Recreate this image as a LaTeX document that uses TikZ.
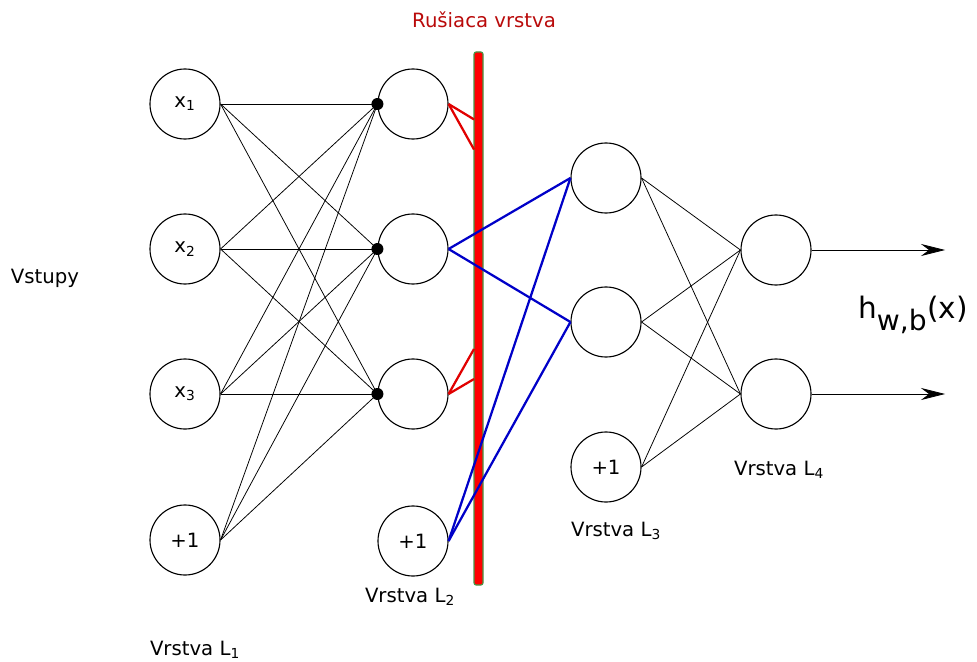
\documentclass[tikz,border=0pt]{standalone}
\usepackage{fontspec}
\setmainfont{DejaVu Sans}
\usepackage{xcolor}
\usepackage{tikz}
\usetikzlibrary{positioning,calc,arrows.meta}

\definecolor{dropred}{RGB}{185,10,10}
\definecolor{barred}{RGB}{255,0,0}
\definecolor{linkred}{RGB}{225,0,0}
\definecolor{bargreen}{RGB}{70,150,70}
\definecolor{linkblue}{RGB}{0,0,200}

\begin{document}
\begin{tikzpicture}[x=0.025cm, y=-0.025cm, font=\fontsize{14}{16}\selectfont,
    neuron/.style={draw, circle, line width=0.8pt, minimum size=1.75cm, inner sep=0pt},
    link/.style={draw, line width=0.55pt},
    droplink/.style={draw=linkred, line width=1.6pt},
    keeplink/.style={draw=linkblue, line width=1.6pt},
    dot/.style={fill, circle, inner sep=0pt, minimum size=0.3cm}]
    \useasboundingbox (0,0) rectangle (977,662);

    % vrstva L1
    \node [neuron] (X1) at (185,104) {x\textsubscript{1}};
    \node [neuron] (X2) at (185,249) {x\textsubscript{2}};
    \node [neuron] (X3) at (185,394) {x\textsubscript{3}};
    \node [neuron] (B1) at (185,540) {+1};

    % vrstva L2
    \node [neuron] (A1) at (413,104) {};
    \node [neuron] (A2) at (413,249) {};
    \node [neuron] (A3) at (413,394) {};
    \node [neuron] (B2) at (413,541) {+1};

    % vrstva L3
    \node [neuron] (C1) at (606,178) {};
    \node [neuron] (C2) at (606,322) {};
    \node [neuron] (B3) at (606,467) {+1};

    % vrstva L4
    \node [neuron] (D1) at (776,250) {};
    \node [neuron] (D2) at (776,394) {};

    % rusiaca vrstva
    \draw [fill=barred, draw=bargreen, line width=0.8pt, rounded corners=1.5pt] (474,52) rectangle (483,585);
    \coordinate (BarTop) at (474,52);
    \coordinate (BarBot) at (474,585);
    \node [text=dropred] (Drop) at (484,20) {Rušiaca vrstva};

    % L1 -> L2
    \foreach \s in {X1,X2,X3,B1}
        \foreach \t in {A1,A2,A3}
            \draw [link] (\s.east) -- (\t.west);
    \foreach \t in {A1,A2,A3}
        \node [dot] at (\t.west) {};

    % L2 -> L3 (odpojene)
    \foreach \s in {A1,A3}
        \foreach \t in {C1,C2}
            \draw [droplink] (\s.east) -- (intersection of \s.east--\t.west and BarTop--BarBot);

    % L2 -> L3 (ponechane)
    \foreach \s in {A2,B2}
        \foreach \t in {C1,C2}
            \draw [keeplink] (\s.east) -- (\t.west);

    % L3 -> L4
    \foreach \s in {C1,C2,B3}
        \foreach \t in {D1,D2}
            \draw [link] (\s.east) -- (\t.west);

    % vystupy
    \coordinate (Out1) at (945,250);
    \coordinate (Out2) at (945,394);
    \draw [link, -{Stealth[length=6mm, width=3mm, inset=2mm]}] (D1.east) -- (Out1);
    \draw [link, -{Stealth[length=6mm, width=3mm, inset=2mm]}] (D2.east) -- (Out2);
    \node (Hyp) at (913,315) {\fontsize{21}{23}\selectfont h\textsubscript{\fontsize{20}{22}\selectfont w,b}(x)};

    % popisy
    \node (Inputs) at (45,278) {Vstupy};
    \node (LabL1) at (195,650) {Vrstva L\textsubscript{1}};
    \node (LabL2) at (410,597) {Vrstva L\textsubscript{2}};
    \node (LabL3) at (616,531) {Vrstva L\textsubscript{3}};
    \node (LabL4) at (779,470) {Vrstva L\textsubscript{4}};
\end{tikzpicture}
\end{document}
